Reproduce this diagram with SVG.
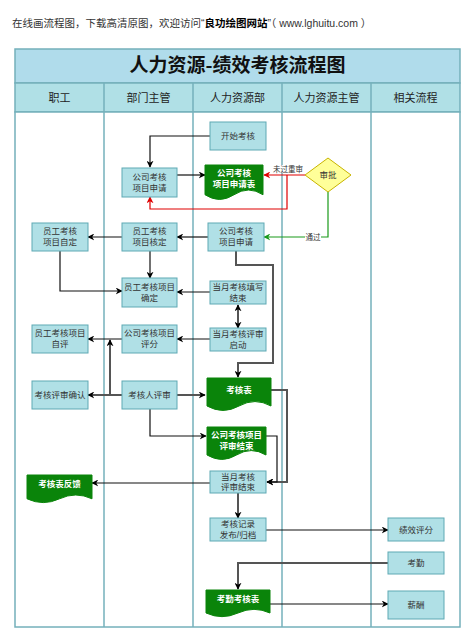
<svg xmlns="http://www.w3.org/2000/svg" width="472" height="639" viewBox="0 0 472 639">
<defs>
<marker id="ah" viewBox="0 0 10 10" refX="9" refY="5" markerWidth="7" markerHeight="7" orient="auto-start-reverse" markerUnits="userSpaceOnUse"><path d="M0,0 L10,5 L0,10 L3,5 Z" fill="#000"/></marker>
<marker id="ahr" viewBox="0 0 10 10" refX="9" refY="5" markerWidth="7" markerHeight="7" orient="auto" markerUnits="userSpaceOnUse"><path d="M0,0 L10,5 L0,10 L3,5 Z" fill="#e00000"/></marker>
<marker id="ahg" viewBox="0 0 10 10" refX="9" refY="5" markerWidth="7" markerHeight="7" orient="auto" markerUnits="userSpaceOnUse"><path d="M0,0 L10,5 L0,10 L3,5 Z" fill="#1a9a1a"/></marker>
</defs>
<style>
.cap{font-family:"Liberation Sans","Noto Sans CJK SC",sans-serif;font-size:10.5px;fill:#333}
.title{font-family:"Noto Sans CJK SC",sans-serif;font-size:19px;font-weight:bold;fill:#111}
.lh{font-family:"Noto Sans CJK SC",sans-serif;font-size:11px;fill:#222}
.box{fill:#b0e0e6;stroke:#5fa9b4;stroke-width:1}
.t{font-family:"Liberation Sans","Noto Sans CJK SC",sans-serif;font-size:8.5px;fill:#333;text-anchor:middle}
.doc{fill:#0a840a;stroke:#0a840a}
.dt{font-family:"Noto Sans CJK SC",sans-serif;font-size:8.5px;font-weight:bold;fill:#fff;text-anchor:middle}
.lane{stroke:#74b0bb;stroke-width:1.5;fill:none}
.c{fill:none;stroke:#111;stroke-width:1.2}
.g{fill:none;stroke:#555;stroke-width:2}
.lbl{font-family:"Liberation Sans","Noto Sans CJK SC",sans-serif;font-size:7.5px;fill:#333;text-anchor:middle}
</style>
<rect x="0" y="0" width="472" height="639" fill="#fff"/>
<text class="cap" x="12" y="27" xml:space="preserve">在线画流程图，下载高清原图，欢迎访问“<tspan font-weight="bold" fill="#000">良功绘图网站</tspan>”（ www.lghuitu.com ）</text>

<g id="table">
<rect x="15" y="49" width="445" height="34" fill="#b0dceb" stroke="#74b0bb" stroke-width="1.5"/>
<text class="title" x="237.5" y="72" text-anchor="middle">人力资源-绩效考核流程图</text>
<rect x="15" y="83" width="445" height="29" fill="#b0e0e6" stroke="#74b0bb" stroke-width="1.5"/>
<rect x="15" y="112" width="445" height="515" fill="#fff" stroke="#74b0bb" stroke-width="1.5"/>
<line class="lane" x1="104" y1="83" x2="104" y2="627"/>
<line class="lane" x1="193" y1="83" x2="193" y2="627"/>
<line class="lane" x1="282" y1="83" x2="282" y2="627"/>
<line class="lane" x1="371" y1="83" x2="371" y2="627"/>
<text class="lh" x="59.5" y="101.5" text-anchor="middle">职工</text>
<text class="lh" x="148.5" y="101.5" text-anchor="middle">部门主管</text>
<text class="lh" x="237.5" y="101.5" text-anchor="middle">人力资源部</text>
<text class="lh" x="326.5" y="101.5" text-anchor="middle">人力资源主管</text>
<text class="lh" x="415.5" y="101.5" text-anchor="middle">相关流程</text>
</g>

<g id="connectors">
<path class="c" d="M210,136 H150 V167" marker-end="url(#ah)"/>
<path class="c" d="M177,175 H205" marker-end="url(#ah)"/>
<path d="M305,175 H264" fill="none" stroke="#e00000" stroke-width="1.2" marker-end="url(#ahr)"/>
<path d="M287,175 V209 H150 V197" fill="none" stroke="#e00000" stroke-width="1.2" marker-end="url(#ahr)"/>
<rect x="274" y="165" width="28" height="8" fill="#fff"/>
<text class="lbl" x="288" y="172">未过重审</text>
<path d="M328,192 V237 H264" fill="none" stroke="#1a9a1a" stroke-width="1.2" marker-end="url(#ahg)"/>
<rect x="305" y="233" width="16" height="8" fill="#fff"/>
<text class="lbl" x="313" y="240">通过</text>
<path class="c" d="M208,237 H177" marker-end="url(#ah)"/>
<path class="c" d="M122,237 H88" marker-end="url(#ah)"/>
<path class="c" d="M150,251 V278" marker-end="url(#ah)"/>
<path class="c" d="M60,251 V291 H122" marker-end="url(#ah)"/>
<path class="c" d="M210,292 H177" marker-end="url(#ah)"/>
<path class="g" d="M236,251 V265 H273 V363 H238 V377" marker-end="url(#ah)"/>
<path class="g" d="M238,317 V305" marker-end="url(#ah)"/>
<path class="g" d="M238,316 V328" marker-end="url(#ah)"/>
<path class="c" d="M210,339 H177" marker-end="url(#ah)"/>
<path class="c" d="M122,339 H88" marker-end="url(#ah)"/>
<path class="g" d="M122,395 H88" marker-end="url(#ah)"/>
<path class="g" d="M110,395 V340" marker-end="url(#ah)"/>
<path class="g" d="M177,395 H205" marker-end="url(#ah)"/>
<path class="c" d="M150,409 V436 H206" marker-end="url(#ah)"/>
<path class="g" d="M271,390 H287 V482 H267" marker-end="url(#ah)"/>
<path class="c" d="M266,436 H277 V482 H267" marker-end="url(#ah)"/>
<path class="c" d="M210,483 H92" marker-end="url(#ah)"/>
<path class="g" d="M238,493 V518" marker-end="url(#ah)"/>
<path class="c" d="M266,530 H388" marker-end="url(#ah)"/>
<path class="g" d="M388,563 H238 V589" marker-end="url(#ah)"/>
<path class="c" d="M270,604 H388" marker-end="url(#ah)"/>
</g>

<g id="n_start"><rect class="box" x="210" y="122" width="56" height="28"/><text class="t" x="238" y="139">开始考核</text></g>
<g id="n_dept_apply"><rect class="box" x="122" y="168" width="55" height="29"/><text class="t" x="149.5" y="179.5">公司考核</text><text class="t" x="149.5" y="190.5">项目申请</text></g>
<g id="n_apply_form"><path class="doc" d="M205,165 H263 V194.75 Q248.5,185.3 234,194.75 Q219.5,204.2 205,194.75 Z"/><text class="dt" x="234" y="176">公司考核</text><text class="dt" x="234" y="186.5">项目申请表</text></g>
<g id="n_approve"><path d="M328,158 L351,175 L328,192 L305,175 Z" fill="#ffff99" stroke="#c8b400" stroke-width="1"/><text class="t" x="328" y="178">审批</text></g>
<g id="n_emp_define"><rect class="box" x="32" y="223" width="56" height="28"/><text class="t" x="60" y="234">员工考核</text><text class="t" x="60" y="245">项目自定</text></g>
<g id="n_dept_check"><rect class="box" x="122" y="223" width="55" height="28"/><text class="t" x="149.5" y="234">员工考核</text><text class="t" x="149.5" y="245">项目核定</text></g>
<g id="n_hr_apply"><rect class="box" x="208" y="223" width="56" height="28"/><text class="t" x="236" y="234">公司考核</text><text class="t" x="236" y="245">项目申请</text></g>
<g id="n_confirm"><rect class="box" x="122" y="278" width="55" height="29"/><text class="t" x="149.5" y="289.5">员工考核项目</text><text class="t" x="149.5" y="300.5">确定</text></g>
<g id="n_fill_end"><rect class="box" x="210" y="281" width="56" height="23"/><text class="t" x="238" y="290">当月考核填写</text><text class="t" x="238" y="300.5">结束</text></g>
<g id="n_review_start"><rect class="box" x="210" y="328" width="56" height="23"/><text class="t" x="238" y="337">当月考核评审</text><text class="t" x="238" y="347.5">启动</text></g>
<g id="n_score"><rect class="box" x="122" y="325" width="55" height="28"/><text class="t" x="149.5" y="336">公司考核项目</text><text class="t" x="149.5" y="347">评分</text></g>
<g id="n_self"><rect class="box" x="32" y="325" width="56" height="28"/><text class="t" x="60" y="336">员工考核项目</text><text class="t" x="60" y="347">自评</text></g>
<g id="n_review_confirm"><rect class="box" x="32" y="381" width="56" height="28"/><text class="t" x="60" y="398">考核评审确认</text></g>
<g id="n_reviewer"><rect class="box" x="122" y="381" width="55" height="28"/><text class="t" x="149.5" y="398">考核人评审</text></g>
<g id="n_form"><path class="doc" d="M207,378 H271 V406 Q255,397.1 239,406 Q223,414.9 207,406 Z"/><text class="dt" x="239" y="393">考核表</text></g>
<g id="n_review_end_doc"><path class="doc" d="M207,427 H266 V455 Q251.25,446.1 236.5,455 Q221.75,463.9 207,455 Z"/><text class="dt" x="236.5" y="438">公司考核项目</text><text class="dt" x="236.5" y="448.5">评审结束</text></g>
<g id="n_month_end"><rect class="box" x="210" y="471" width="56" height="22"/><text class="t" x="238" y="480">当月考核</text><text class="t" x="238" y="490">评审结束</text></g>
<g id="n_feedback"><path class="doc" d="M27,475 H92 V498.8 Q75.75,491.2 59.5,498.8 Q43.25,506.4 27,498.8 Z"/><text class="dt" x="59.5" y="487">考核表反馈</text></g>
<g id="n_record"><rect class="box" x="210" y="518" width="56" height="23"/><text class="t" x="238" y="527">考核记录</text><text class="t" x="238" y="537.5">发布/归档</text></g>
<g id="n_perf"><rect class="box" x="388" y="518" width="56" height="23"/><text class="t" x="416" y="532.5">绩效评分</text></g>
<g id="n_attend"><rect class="box" x="388" y="552" width="56" height="22"/><text class="t" x="416" y="566">考勤</text></g>
<g id="n_attend_form"><path class="doc" d="M206,590 H270 V613 Q254,605.7 238,613 Q222,620.3 206,613 Z"/><text class="dt" x="238" y="602">考勤考核表</text></g>
<g id="n_salary"><rect class="box" x="388" y="591" width="56" height="28"/><text class="t" x="416" y="608">薪酬</text></g>
</svg>
